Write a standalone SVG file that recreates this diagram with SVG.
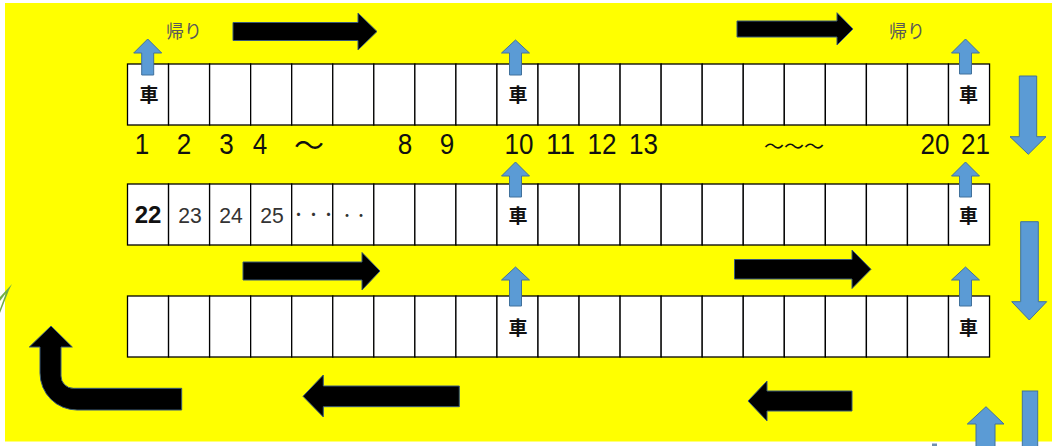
<svg xmlns="http://www.w3.org/2000/svg" width="1052" height="446" viewBox="0 0 1052 446">
<style>
.cell{fill:#fff;stroke:#000;stroke-width:1.3}
.car{font-family:"Noto Sans CJK JP","Noto Sans CJK SC",sans-serif;font-size:19px;font-weight:bold;fill:#111;text-anchor:middle;dominant-baseline:central}
.num{font-family:"Liberation Sans",Arial,sans-serif;font-size:29px;fill:#111;text-anchor:middle}
.wave{font-family:"Noto Sans CJK JP",sans-serif;fill:#111;text-anchor:middle}
.kaeri{font-family:"Noto Sans CJK JP",sans-serif;font-size:18px;fill:#595959;text-anchor:middle}
.n2{font-family:"Liberation Sans",Arial,sans-serif;font-size:22px;fill:#333;text-anchor:middle}
.dots{font-family:"Noto Sans CJK JP",sans-serif;fill:#333}
.blue{fill:#5b9bd5;stroke:#41719c;stroke-width:1}
.blk{fill:#000;stroke:#3a5a7a;stroke-width:1}
</style>
<defs>
<g id="row">
<rect class="cell" x="127.5" y="0" width="41.05" height="61"/>
<rect class="cell" x="168.55" y="0" width="41.05" height="61"/>
<rect class="cell" x="209.6" y="0" width="41.05" height="61"/>
<rect class="cell" x="250.65" y="0" width="41.05" height="61"/>
<rect class="cell" x="291.7" y="0" width="41.05" height="61"/>
<rect class="cell" x="332.75" y="0" width="41.05" height="61"/>
<rect class="cell" x="373.8" y="0" width="41.05" height="61"/>
<rect class="cell" x="414.85" y="0" width="41.05" height="61"/>
<rect class="cell" x="455.9" y="0" width="41.05" height="61"/>
<rect class="cell" x="496.95" y="0" width="41.05" height="61"/>
<rect class="cell" x="538" y="0" width="41.05" height="61"/>
<rect class="cell" x="579.05" y="0" width="41.05" height="61"/>
<rect class="cell" x="620.1" y="0" width="41.05" height="61"/>
<rect class="cell" x="661.15" y="0" width="41.05" height="61"/>
<rect class="cell" x="702.2" y="0" width="41.05" height="61"/>
<rect class="cell" x="743.25" y="0" width="41.05" height="61"/>
<rect class="cell" x="784.3" y="0" width="41.05" height="61"/>
<rect class="cell" x="825.35" y="0" width="41.05" height="61"/>
<rect class="cell" x="866.4" y="0" width="41.05" height="61"/>
<rect class="cell" x="907.45" y="0" width="41.05" height="61"/>
<rect class="cell" x="948.5" y="0" width="41.05" height="61"/>
</g>
</defs>

<rect x="5" y="3" width="1047" height="438.5" fill="#ffff00"/>
<polygon points="12,284 0,297 0,301 6,293 0,309 0,313 9,290" fill="#70ad47"/>

<g id="row1">
<use href="#row" y="64"/>
<text class="car" x="149" y="93.5">車</text>
<text class="car" x="518" y="93.5">車</text>
<text class="car" x="968.5" y="93.5">車</text>
</g>
<g id="row2">
<use href="#row" y="184"/>
<text x="148" y="223" style="font-family:'Liberation Sans',Arial,sans-serif;font-size:24px;font-weight:bold;fill:#111;text-anchor:middle">22</text>
<text class="n2" x="190" y="222.5" textLength="23.5" lengthAdjust="spacingAndGlyphs">23</text>
<text class="n2" x="231" y="222.5" textLength="23.5" lengthAdjust="spacingAndGlyphs">24</text>
<text class="n2" x="272" y="222.5" textLength="23.5" lengthAdjust="spacingAndGlyphs">25</text>
<text class="dots" x="291" y="220" font-size="15">・・・</text>
<text class="dots" x="340" y="220" font-size="14">・・</text>
<text class="car" x="518" y="214.5">車</text>
<text class="car" x="968.5" y="214.5">車</text>
</g>
<g id="row3">
<use href="#row" y="296"/>
<text class="car" x="518" y="326">車</text>
<text class="car" x="968.5" y="326">車</text>
</g>

<g id="numbers">
<text class="num" x="142" y="154" textLength="14.5" lengthAdjust="spacingAndGlyphs">1</text>
<text class="num" x="184" y="154" textLength="14.5" lengthAdjust="spacingAndGlyphs">2</text>
<text class="num" x="226.5" y="154" textLength="14.5" lengthAdjust="spacingAndGlyphs">3</text>
<text class="num" x="260" y="154" textLength="14.5" lengthAdjust="spacingAndGlyphs">4</text>
<text class="wave" x="309" y="156" font-size="30">～</text>
<text class="num" x="405" y="154" textLength="14.5" lengthAdjust="spacingAndGlyphs">8</text>
<text class="num" x="447" y="154" textLength="14.5" lengthAdjust="spacingAndGlyphs">9</text>
<text class="num" x="519" y="154" textLength="29" lengthAdjust="spacingAndGlyphs">10</text>
<text class="num" x="560.5" y="154" textLength="29" lengthAdjust="spacingAndGlyphs">11</text>
<text class="num" x="602" y="154" textLength="29" lengthAdjust="spacingAndGlyphs">12</text>
<text class="num" x="643.5" y="154" textLength="29" lengthAdjust="spacingAndGlyphs">13</text>
<text class="wave" x="794" y="153.5" font-size="20">～～～</text>
<text class="num" x="935" y="154" textLength="29" lengthAdjust="spacingAndGlyphs">20</text>
<text class="num" x="975.5" y="154" textLength="29" lengthAdjust="spacingAndGlyphs">21</text>
</g>

<g id="labels">
<text class="kaeri" x="184" y="38">帰り</text>
<text class="kaeri" x="907" y="38">帰り</text>
</g>

<g id="connectors">
<path class="blue" d="M147.7,39 L161.7,53 H153.7 V75 H141.7 V53 H133.7 Z"/>
<path class="blue" d="M515.5,40 L529.5,53 H521.5 V75 H509.5 V53 H501.5 Z"/>
<path class="blue" d="M965.5,39 L979.5,53 H971.5 V74 H959.5 V53 H951.5 Z"/>
<path class="blue" d="M515.5,162 L529.5,176 H521.5 V197 H509.5 V176 H501.5 Z"/>
<path class="blue" d="M965.5,162 L979.5,176 H971.5 V197 H959.5 V176 H951.5 Z"/>
<path class="blue" d="M515.5,267 L529.5,280 H521.5 V306 H509.5 V280 H501.5 Z"/>
<path class="blue" d="M965.5,267 L979.5,280 H971.5 V306 H959.5 V280 H951.5 Z"/>
<path class="blue" d="M1019.3,76 H1036.7 V136.7 H1046 L1028.3,154.3 L1010,136.7 H1019.3 Z"/>
<path class="blue" d="M1020.7,221.7 H1038.3 V301.7 H1046.7 L1029.3,320 L1011.7,301.7 H1020.7 Z"/>
<path class="blue" d="M986,406.7 L1004,424 H995 V450 H976 V424 H967.3 Z"/>
<rect class="blue" x="1022.3" y="391" width="15.4" height="60"/>
<rect x="932" y="443.5" width="5" height="3" fill="#6f8fb0"/>
<path class="blk" d="M233,22.5 H358 V13 L377,31.5 L358,50 V40.5 H233 Z"/>
<path class="blk" d="M737,21 H837 V12.7 L853,29 L837,45 V37 H737 Z"/>
<path class="blk" d="M243,262 H362 V252.5 L380,271 L362,290 V280 H243 Z"/>
<path class="blk" d="M734.5,259.5 H852 V250 L871,269.3 L852,288.5 V279 H734.5 Z"/>
<path class="blk" d="M303,396.3 L323.3,375 V386 H459.3 V406.7 H323.3 V417 Z"/>
<path class="blk" d="M748,401 L767,381 V391 H852 V411 H767 V421 Z"/>
<path class="blk" d="M51,326 L72.3,347 H61 V376 A12.3,12.3 0 0 0 73.3,388.3 H181.7 V410 H77 A37,37 0 0 1 40,373 V347 H29.3 Z"/>
</g>
</svg>
